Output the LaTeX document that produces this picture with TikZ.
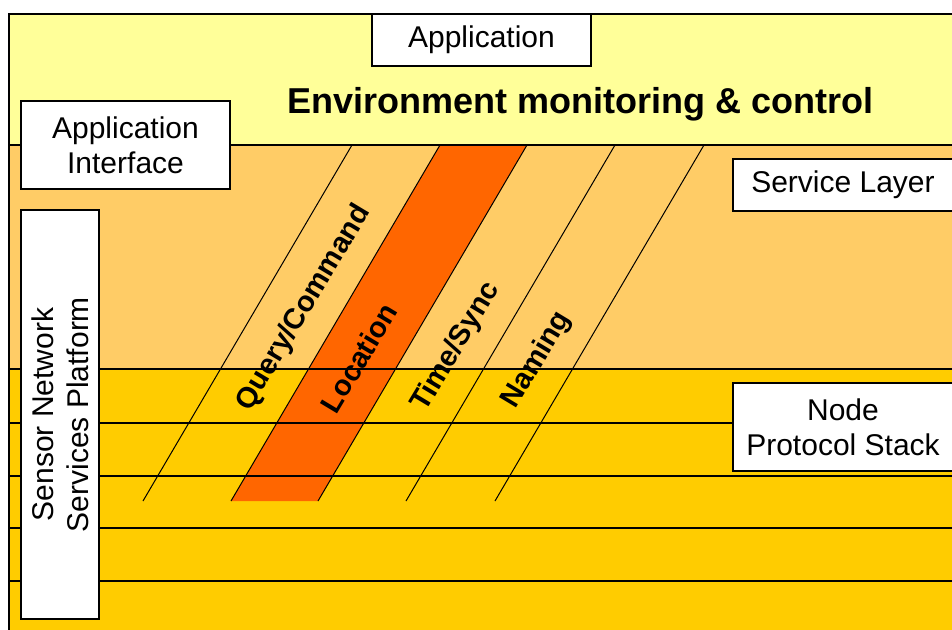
\documentclass[tikz,border=0pt]{standalone}
\usepackage{fontspec}
\setmainfont{Liberation Sans}

\definecolor{appyellow}{HTML}{FFFF99}
\definecolor{serviceorange}{HTML}{FFCC66}
\definecolor{stackyellow}{HTML}{FFCC00}
\definecolor{locorange}{HTML}{FF6600}

\begin{document}
\begin{tikzpicture}[
        x=1pt, y=-1pt,
        box/.style={draw, line width=1.8pt, fill=white, align=center, inner sep=0pt, font=\fontsize{30}{35}\selectfont},
        svc/.style={font=\bfseries\fontsize{29}{34}\selectfont, rotate=59, inner sep=0pt},
        hline/.style={draw, line width=1.6pt},
        diag/.style={draw, line width=1pt}
    ]

    \useasboundingbox (0,0) rectangle (952,629);
    \clip (0,0) rectangle (952,629);

    % Schichten
    \fill[appyellow] (9,14) rectangle (960,145);
    \fill[serviceorange] (9,145) rectangle (960,369);
    \fill[stackyellow] (9,369) rectangle (960,640);
    \fill[locorange] (440,145) -- (527,145) -- (318,501) -- (231,501) -- cycle;

    \foreach \y in {145,369,423,476,528,581}
        \draw[hline] (9,\y) -- (960,\y);
    \foreach \t in {352,440,527,615,704}
        \draw[diag] (\t,145) -- ++(-209,356);
    \draw[line width=1.8pt] (9,640) -- (9,14) -- (960,14);

    % Kaesten
    \node (app) [box, minimum width=219, minimum height=52] at (481.5,40) {Application};
    \node (appif) [box, minimum width=209, minimum height=88] at (125.5,145) {Application\\Interface};
    \node (servicelayer) [box, minimum width=220, minimum height=52] at (843,185) {Service Layer};
    \node (stack) [box, minimum width=220, minimum height=88] at (843,427) {Node\\Protocol Stack};
    \node (platform) [box, rotate=90, minimum width=409, minimum height=78] at (60,414.5) {Sensor Network\\Services Platform};

    \node (env) [font=\bfseries\fontsize{36}{40}\selectfont] at (580,104) {Environment monitoring \& control};

    % Dienste
    \node (query) [svc] at (304,308) {Query/Command};
    \node (location) [svc] at (359,358) {Location};
    \node (timesync) [svc] at (456,347) {Time/Sync};
    \node (naming) [svc] at (537,360) {Naming};

\end{tikzpicture}
\end{document}
